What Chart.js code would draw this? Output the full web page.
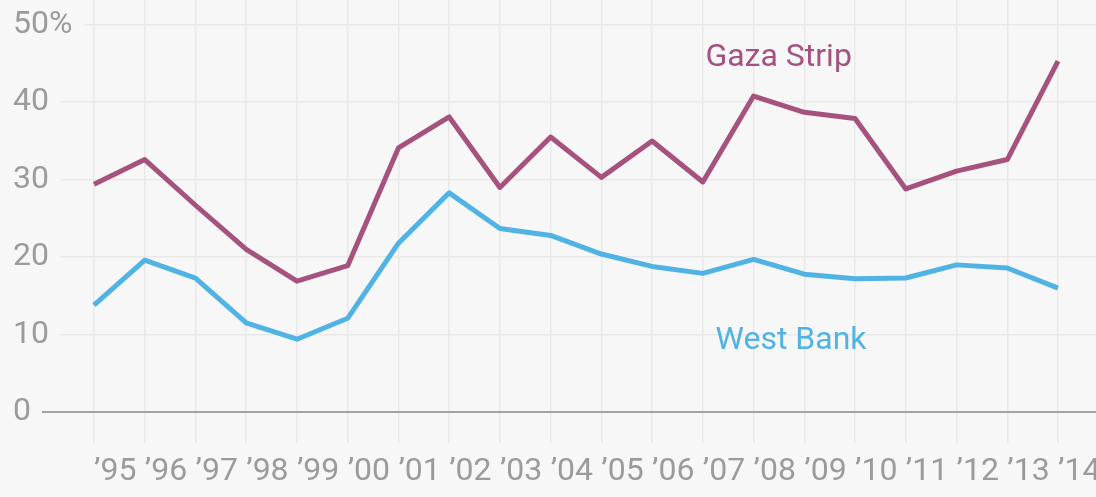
<!DOCTYPE html>
<html>
<head>
<meta charset="utf-8">
<script src="https://cdn.jsdelivr.net/npm/chart.js@4.4.1/dist/chart.umd.min.js"></script>
<style>
  html, body { margin: 0; padding: 0; background: #f7f7f7; }
  canvas { display: block; }
</style>
</head>
<body>
<canvas id="graphique" width="1096" height="497"></canvas>
<script>
// années (axe x)
const annees = ['\u201995', '\u201996', '\u201997', '\u201998', '\u201999', '\u201900', '\u201901', '\u201902', '\u201903', '\u201904',
    '\u201905', '\u201906', '\u201907', '\u201908', '\u201909', '\u201910', '\u201911', '\u201912', '\u201913', '\u201914'];

// valeurs en %
const gazaStrip = [29.4, 32.6, 26.7, 21.0, 16.9, 18.9, 34.1, 38.1, 29.0, 35.5, 30.3, 35.0, 29.7, 40.8, 38.7, 37.9, 28.8, 31.1, 32.6, 45.3];
const westBank = [13.8, 19.6, 17.3, 11.5, 9.4, 12.1, 21.8, 28.3, 23.7, 22.8, 20.4, 18.8, 17.9, 19.7, 17.8, 17.2, 17.3, 19.0, 18.6, 16.0];

const yTicks = [0, 10, 20, 30, 40, 50];

// étiquettes des séries
const etiquettes = [
    {text: 'Gaza Strip', x: 12.05, y: 45.7, color: '#a5527f'},
    {text: 'West Bank', x: 12.25, y: 9.2, color: '#50b3e4'}
];

const police = 'Roboto, "Noto Sans", sans-serif';
const gris = '#9b9b9b';

const etiquettesPlugin = {
    id: 'etiquettes',
    afterDatasetsDraw(chart) {
        const ctx = chart.ctx;
        const x = chart.scales.x;
        const y = chart.scales.y;
        ctx.save();
        ctx.font = '32px ' + police;
        ctx.textAlign = 'left';
        ctx.textBaseline = 'middle';
        etiquettes.forEach(e => {
            ctx.fillStyle = e.color;
            ctx.fillText(e.text, x.getPixelForValue(e.x), y.getPixelForValue(e.y));
        });
        ctx.restore();
    }
};

function toPoints(values) {
    return values.map((v, i) => ({x: i, y: v}));
}

const ctx = document.getElementById('graphique').getContext('2d');
new Chart(ctx, {
    type: 'line',
    data: {
        datasets: [
            {
                label: 'Gaza Strip',
                data: toPoints(gazaStrip),
                borderColor: '#a5527f',
                borderWidth: 5,
                borderJoinStyle: 'round',
                pointRadius: 0,
                tension: 0,
                fill: false
            },
            {
                label: 'West Bank',
                data: toPoints(westBank),
                borderColor: '#50b3e4',
                borderWidth: 5,
                borderJoinStyle: 'round',
                pointRadius: 0,
                tension: 0,
                fill: false
            }
        ]
    },
    options: {
        responsive: false,
        devicePixelRatio: 1,
        animation: false,
        layout: {padding: 0},
        plugins: {
            legend: {display: false},
            tooltip: {enabled: false}
        },
        scales: {
            x: {
                type: 'linear',
                min: -1.853,
                max: 19.749,
                afterBuildTicks: axis => {
                    axis.ticks = annees.map((a, i) => ({value: i}));
                },
                afterFit: axis => {
                    axis.paddingLeft = 0;
                    axis.paddingRight = 0;
                    axis.height = 54;
                },
                border: {display: false},
                grid: {color: '#e9e9e9', lineWidth: 1.5, drawTicks: false},
                ticks: {
                    align: 'start',
                    padding: 10,
                    color: gris,
                    font: {family: police, size: 32},
                    maxRotation: 0,
                    autoSkip: false,
                    callback: value => annees[value]
                }
            },
            y: {
                min: -4,
                max: 53.2,
                afterBuildTicks: axis => {
                    axis.ticks = yTicks.map(v => ({value: v}));
                },
                afterFit: axis => {
                    axis.paddingTop = 0;
                    axis.paddingBottom = 0;
                    axis.width = 0;
                },
                border: {display: false},
                grid: {
                    drawTicks: false,
                    color: c => c.tick && c.tick.value === 0 ? '#a3a3a3' : '#e9e9e9',
                    lineWidth: c => c.tick && c.tick.value === 0 ? 2 : 1.5
                },
                ticks: {
                    mirror: true,
                    padding: 13,
                    color: gris,
                    font: {family: police, size: 32},
                    showLabelBackdrop: true,
                    backdropColor: '#f7f7f7',
                    backdropPadding: {left: 14, right: 11, top: 0, bottom: 0},
                    callback: value => value === 50 ? '50%' : String(value)
                }
            }
        }
    },
    plugins: [etiquettesPlugin]
});
</script>
</body>
</html>
